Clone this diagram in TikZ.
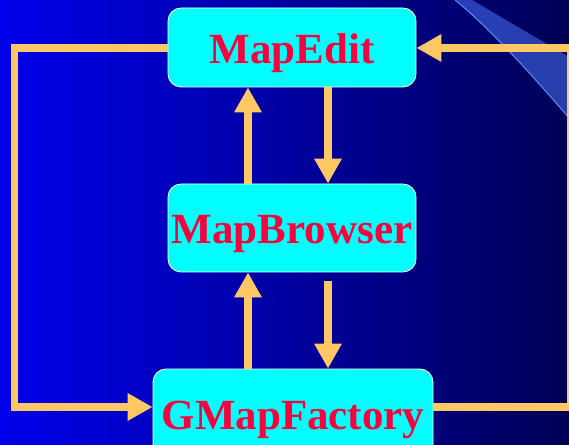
\documentclass[tikz,border=0pt]{standalone}
\usepackage{fontspec}
\setmainfont{Liberation Serif}
\usetikzlibrary{arrows.meta}
\definecolor{arrowc}{RGB}{255,200,100}
\definecolor{boxc}{RGB}{0,255,255}
\definecolor{textc}{RGB}{250,0,60}
\definecolor{bgl}{RGB}{0,0,235}
\definecolor{bgr}{RGB}{0,0,85}
\definecolor{bandc}{RGB}{80,125,255}
\definecolor{bandedge}{RGB}{90,140,255}
\tikzset{
  module/.style={draw=white, line width=0.8pt, fill=boxc, rounded corners=13pt,
    text=textc, font=\fontsize{43}{43}\selectfont\bfseries,
    text height=32pt, text depth=0pt, inner sep=0pt, minimum height=88pt},
  arr/.style={draw=arrowc, line width=7.5pt, line join=miter,
    -{Triangle[length=25pt,width=26pt]}}
}
\begin{document}
\begin{tikzpicture}[x=1pt,y=1pt]
\useasboundingbox (0,0) rectangle (569,444);
\clip (0,0) rectangle (569,444);
\shade[left color=bgl, right color=bgr] (0,0) rectangle (569,444);
% light band top right
\fill[bandc, opacity=0.5] (455,444) .. controls (490,416) and (540,360) .. (569,326)
  -- (569,387) -- (472,444) -- cycle;
\draw[bandedge, line width=1pt] (455,444) .. controls (490,416) and (540,360) .. (569,326);
% boxes
\node[module, minimum width=248pt, minimum height=79pt] (MapEdit) at (292,396.5) {MapEdit};
\node[module, minimum width=248pt] (MapBrowser) at (292,216) {MapBrowser};
\node[module, minimum width=280pt] (GMapFactory) at (293,31) {GMapFactory};
% coordinates
\coordinate (ux) at (248,0);
\coordinate (dx) at (328,0);
\coordinate (lx) at (14.5,396);
\coordinate (lb) at (14.5,37);
\coordinate (rx) at (571,37);
\coordinate (rt) at (571,396);
% vertical arrows
\draw[arr] (MapBrowser.north -| ux) -- (MapEdit.south -| ux);
\draw[arr] (MapEdit.south -| dx) -- (MapBrowser.north -| dx);
\draw[arr] (GMapFactory.north -| ux) -- (MapBrowser.south -| ux);
\draw[arr, shorten <=9pt] (MapBrowser.south -| dx) -- (GMapFactory.north -| dx);
% loops
\draw[arr] (MapEdit.west |- lx) -- (lx) -- (lb) -- (GMapFactory.west |- lb);
\draw[arr] (GMapFactory.east |- rx) -- (rx) -- (rt) -- (MapEdit.east |- rt);
\end{tikzpicture}
\end{document}
